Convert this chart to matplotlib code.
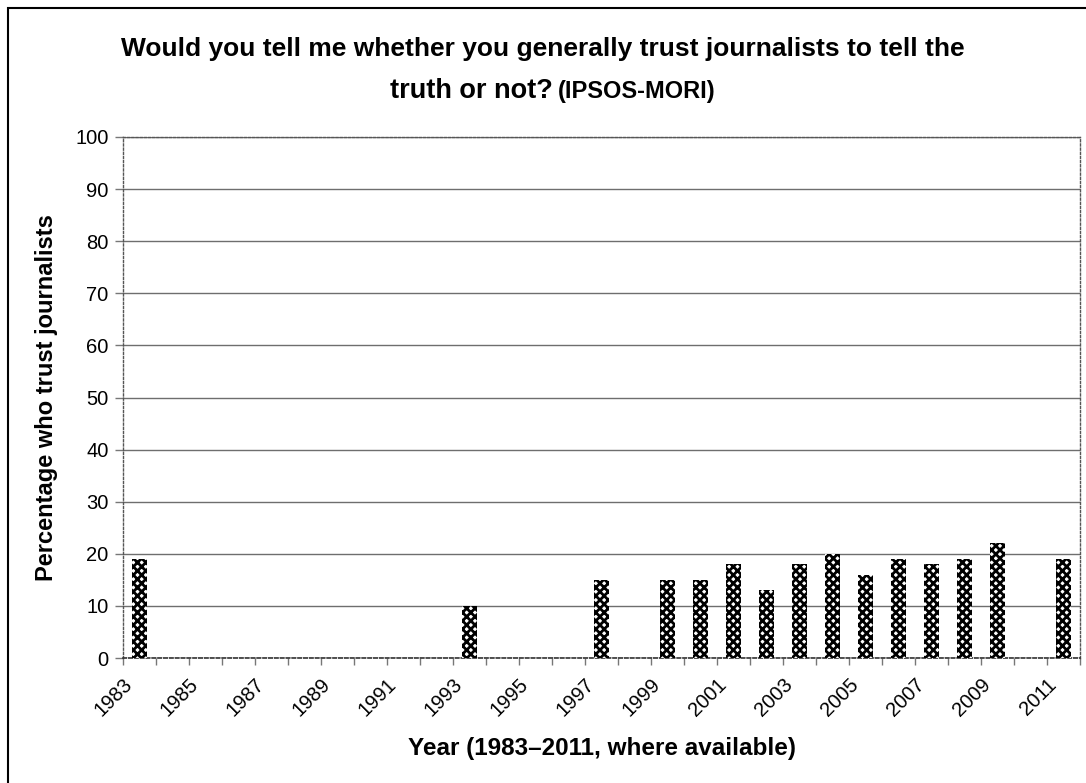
import matplotlib
matplotlib.use("Agg")
import matplotlib.pyplot as plt
from matplotlib.patches import Rectangle
from matplotlib.ticker import MultipleLocator, FixedLocator
from matplotlib.transforms import ScaledTranslation

plt.rcParams['font.family'] = ['Liberation Sans', 'DejaVu Sans']
plt.rcParams['hatch.linewidth'] = 2.0

# Data
years = [1983, 1993, 1997, 1999, 2000, 2001, 2002, 2003, 2004, 2005, 2006, 2007, 2008, 2009, 2011]
trust = [19, 10, 15, 15, 15, 18, 13, 18, 20, 16, 19, 18, 19, 22, 19]
label_years = list(range(1983, 2012, 2))
y_ticks = list(range(0, 101, 10))

W, H = 1086, 783
fig = plt.figure(figsize=(W / 100, H / 100), dpi=100)
fig.patch.set_facecolor('white')

# outer border
fig.add_artist(Rectangle((8 / W, -0.05), 1.2, 1.05 - 8 / H, transform=fig.transFigure,
                         fill=False, edgecolor='black', linewidth=1.5, clip_on=False))

ax_l, ax_r, ax_t, ax_b = 123, 1080, 137, 658
ax = fig.add_axes([ax_l / W, 1 - ax_b / H, (ax_r - ax_l) / W, (ax_b - ax_t) / H])
ax.set_facecolor('white')

ax.bar(years, trust, width=0.48, facecolor='white', edgecolor='black',
       hatch='xxxx', linewidth=0, zorder=3)

ax.set_xlim(1982.5, 2011.5)
ax.set_ylim(0, 100)

ax.yaxis.set_major_locator(FixedLocator(y_ticks))
ax.grid(axis='y', color='#6e6e6e', linewidth=1.0, zorder=1)

ax.set_xticks(label_years)
ax.set_xticklabels([str(y) for y in label_years], rotation=45, ha='right', va='top',
                   rotation_mode='anchor', fontsize=14.5)
ax.tick_params(axis='x', which='major', length=0, pad=12)
shift = ScaledTranslation(-17 / 100, 0, fig.dpi_scale_trans)
for lbl in ax.get_xticklabels():
    lbl.set_transform(lbl.get_transform() + shift)
ax.xaxis.set_minor_locator(MultipleLocator(1, offset=0.5))
ax.tick_params(axis='x', which='minor', length=5, color='#777777', width=1)
ax.tick_params(axis='y', length=5.5, color='#777777', width=1, labelsize=14.5, pad=5)

for side in ['top', 'right', 'left']:
    ax.spines[side].set_linestyle((0, (1.5, 1.5)))
    ax.spines[side].set_color('#555555')
    ax.spines[side].set_linewidth(1.0)
ax.spines['bottom'].set_linestyle((0, (2, 1.5)))
ax.spines['bottom'].set_color('#333333')
ax.spines['bottom'].set_linewidth(1.2)

ax.set_ylabel('Percentage who trust journalists', fontsize=17, fontweight='bold')
ax.set_xlabel('Year (1983\u20132011, where available)', fontsize=17.5, fontweight='bold')
ax.xaxis.label.set_va('center')
ax.yaxis.label.set_va('center')
ax.xaxis.set_label_coords(0.5, -(748 - ax_b) / (ax_b - ax_t))
ax.yaxis.set_label_coords(-(ax_l - 47) / (ax_r - ax_l), 0.5)

fig.text(543 / W, 1 - 56 / H,
         'Would you tell me whether you generally trust journalists to tell the',
         ha='center', va='baseline', fontsize=19, fontweight='bold')
fig.text(553 / W, 1 - 98 / H, 'truth or not?', ha='right', va='baseline',
         fontsize=19.5, fontweight='bold')
fig.text(558 / W, 1 - 98 / H, '(IPSOS-MORI)', ha='left', va='baseline',
         fontsize=17, fontweight='bold')

fig.savefig('out.png', dpi=100, facecolor='white')
